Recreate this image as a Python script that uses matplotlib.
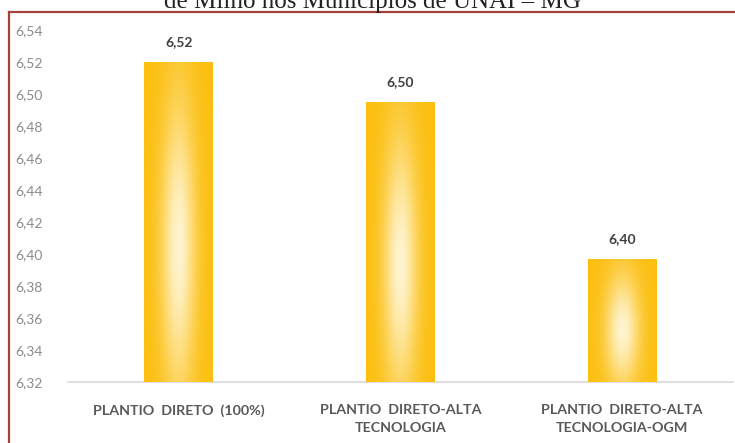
import numpy as np
import matplotlib.pyplot as plt
from matplotlib import ticker
from matplotlib.lines import Line2D
from matplotlib.colors import to_rgb

categorias = ['PLANTIO  DIRETO  (100%)', 'PLANTIO  DIRETO-ALTA\nTECNOLOGIA',
              'PLANTIO  DIRETO-ALTA\nTECNOLOGIA-OGM']
valores = [6.52, 6.495, 6.397]
rotulos = ['6,52', '6,50', '6,40']
titulo = 'de Milho nos Municípios de UNAÍ – MG'

fig = plt.figure(figsize=(7.35, 4.43), dpi=100)
W, H = 735, 443
ax = fig.add_axes([68 / W, 1 - 382 / H, (733 - 68) / W, (382 - 30) / H])

x = np.arange(len(valores))
bars = ax.bar(x, valores, width=0.31, color='#ffc000', zorder=2)

# degrade dourado -> branco no centro de cada barra
gold = np.array(to_rgb('#fcbf10'))
white = np.array([1.0, 0.98, 0.90])
ny, nx = 200, 60
yy, xx = np.mgrid[0:1:ny * 1j, -1:1:nx * 1j]
for b in bars:
    x0, w = b.get_x(), b.get_width()
    y0, h = 6.32, b.get_height() - 6.32
    t = 0.9 * np.exp(-(xx / 0.5) ** 2) * np.exp(-((yy - 0.42) / 0.45) ** 2)
    img = gold[None, None, :] * (1 - t[..., None]) + white[None, None, :] * t[..., None]
    im = ax.imshow(img, extent=[x0, x0 + w, y0, y0 + h], origin='lower',
                   aspect='auto', interpolation='bilinear', zorder=3)
    im.set_clip_path(b)

for xi, v, r in zip(x, valores, rotulos):
    ax.annotate(r, (xi, v), xytext=(0, 10), textcoords='offset points',
                ha='center', va='bottom', fontsize=10, fontweight='bold',
                color='#404040', family='Lato')

ax.set_xlim(-0.5, 2.5)
ax.set_ylim(6.32, 6.54)
ax.yaxis.set_major_locator(ticker.MultipleLocator(0.02))
ax.yaxis.set_major_formatter(lambda y, pos: f'{y:.2f}'.replace('.', ','))
ax.set_xticks(x)
ax.set_xticklabels(categorias, fontsize=10.3, fontweight='bold', color='#595959',
                   family='Lato', linespacing=1.55)
for lab in ax.get_yticklabels():
    lab.set_family('Lato')
ax.tick_params(axis='y', length=0, pad=18, labelsize=10, labelcolor='#8c8c8c')
ax.tick_params(axis='x', length=0, pad=16)

for s in ['top', 'right', 'left']:
    ax.spines[s].set_visible(False)
ax.spines['bottom'].set_color('#d9d9d9')
ax.spines['bottom'].set_linewidth(1.2)

# moldura vermelha
fig.add_artist(Line2D([9 / W, 9 / W], [0, 1 - 12 / H], color='#a5413b', lw=1.6))
fig.add_artist(Line2D([9 / W, 1], [1 - 12 / H, 1 - 12 / H], color='#a5413b', lw=1.6))

fig.text(372 / W, 1 - 8 / H, titulo, ha='center', va='baseline', fontsize=18,
         family='Liberation Serif', color='#222222')

fig.savefig('out.png', dpi=100)
